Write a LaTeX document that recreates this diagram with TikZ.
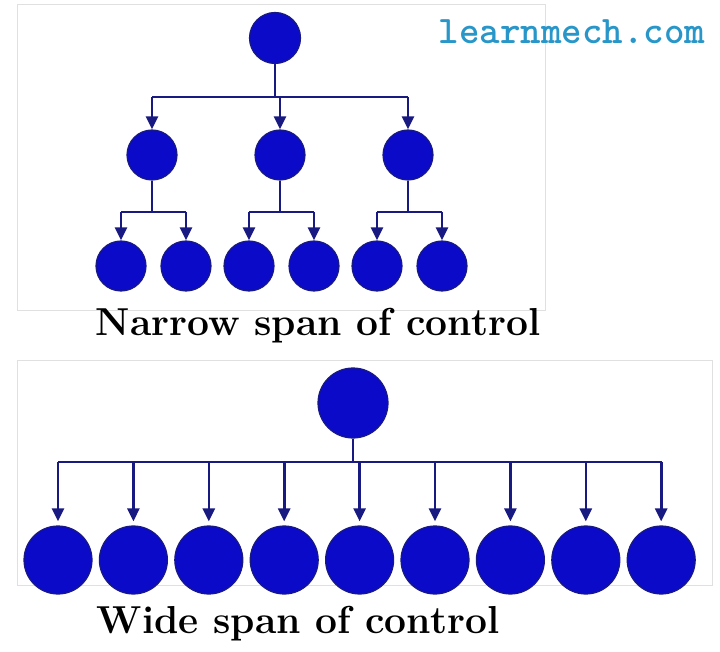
\documentclass[tikz,border=0pt]{standalone}
\usepackage{fontspec}
\usepackage{tikz}
\usetikzlibrary{positioning,calc,arrows.meta}
\definecolor{ballblue}{RGB}{10,10,200}
\definecolor{linenavy}{RGB}{25,25,130}
\definecolor{sitecol}{RGB}{40,150,200}
\tikzset{
	ball/.style={circle, fill=ballblue, draw=linenavy, line width=1.2pt, minimum size=#1, inner sep=0pt},
	link/.style={draw=linenavy, line width=2.6pt},
	down/.style={link, -{Triangle[length=13pt,width=12pt]}},
	caption/.style={font=\fontsize{39}{44}\selectfont\bfseries}
}
\begin{document}
\begin{tikzpicture}[x=1pt,y=-1pt]
		\useasboundingbox (0,0) rectangle (720,652);
		\draw[black!12, line width=1pt] (17,5) rectangle (545,310);
		\draw[black!12, line width=1pt] (17,360) rectangle (712,585);
		\node[font=\fontsize{39}{42}\selectfont\bfseries\ttfamily, text=sitecol] (site) at (572,32) {learnmech.com};
		% narrow span
		\node[ball=51pt] (top) at (275,38) {};
		\coordinate (tbar) at (275,97);
		\draw[link] (top) -- (tbar);
		\draw[link] (152,97) -- (408,97);
		\foreach \i/\x in {1/152,2/280,3/408}{
			\node[ball=50pt] (mid\i) at (\x,155) {};
			\draw[down] (\x,97) -- (mid\i.north);
			\coordinate (mbar\i) at (\x,212);
			\draw[link] (mid\i) -- (mbar\i);
			\draw[link] ($(mbar\i)+(-31,0)$) -- ($(mbar\i)+(34,0)$);
			\node[ball=50pt] (leaf\i a) at ($(mbar\i)+(-31,54)$) {};
			\node[ball=50pt] (leaf\i b) at ($(mbar\i)+(34,54)$) {};
			\draw[down] ($(mbar\i)+(-31,0)$) -- (leaf\i a.north);
			\draw[down] ($(mbar\i)+(34,0)$) -- (leaf\i b.north);
		}
		\node[caption] (narrow) at (318,326) {Narrow span of control};
		% wide span
		\node[ball=70pt] (boss) at (353,403) {};
		\coordinate (wbar) at (353,462);
		\draw[link] (boss) -- (wbar);
		\draw[link] (58,462) -- (662,462);
		\foreach \i in {0,...,8}{
			\node[ball=68pt] (w\i) at ({58+75.4*\i},560) {};
			\draw[down] ({58+75.4*\i},462) -- ($(w\i.north)+(0,-4)$);
		}
		\node[caption] (wide) at (298,624) {Wide span of control};
	\end{tikzpicture}
\end{document}
